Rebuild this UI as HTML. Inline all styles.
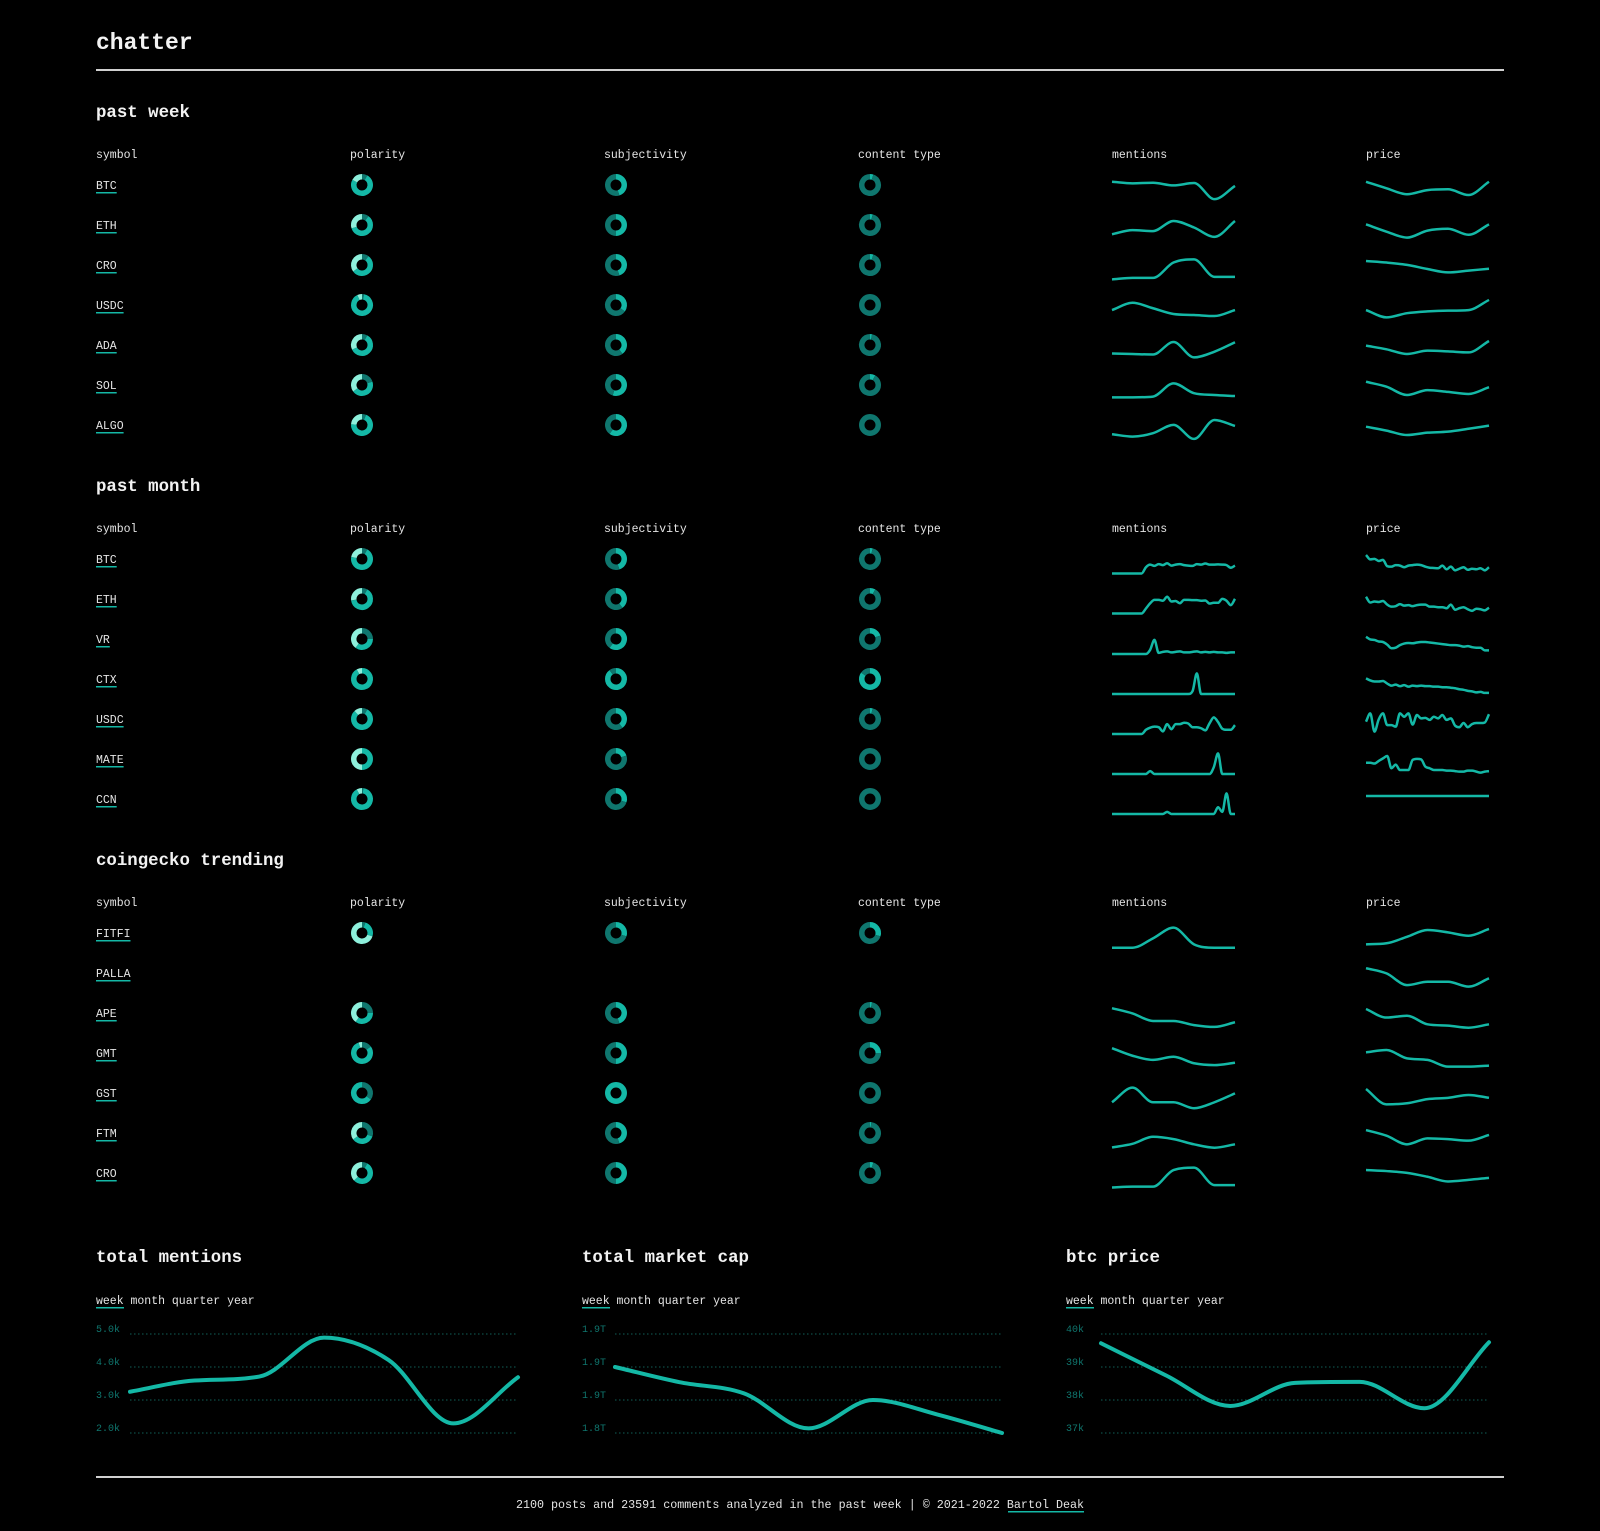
<!DOCTYPE html>
<html><head><meta charset="utf-8"><title>chatter</title>
<style>
html,body{margin:0;padding:0;background:#000;}
body{width:1600px;height:1531px;overflow:hidden;}
svg{display:block;font-family:"Liberation Mono",monospace;}
</style></head>
<body>
<svg id="page" width="1600" height="1531" viewBox="0 0 1600 1531" xmlns="http://www.w3.org/2000/svg">
<rect width="1600" height="1531" fill="#000"/>
<text x="96" y="49" fill="#f2f2f2" font-size="23" font-weight="bold">chatter</text>
<rect x="96" y="69" width="1408" height="2" fill="#d0d0d0"/>
<rect x="96" y="1476" width="1408" height="2" fill="#d0d0d0"/>
<text x="800" y="1508" text-anchor="middle" fill="#e5e5e5" font-size="11.7">2100 posts and 23591 comments analyzed in the past week | © 2021-2022 <tspan>Bartol Deak</tspan></text>
<rect x="1008" y="1511" width="76" height="1.5" fill="#14b8a6"/>
<g id="layer"></g>
</svg>
<script>
// ---------- data ----------
const weekSymbols = ['BTC','ETH','CRO','USDC','ADA','SOL','ALGO'];
const weekPolarity = [[.08,.75,.17],[.1,.6,.3],[.1,.55,.35],[.03,.9,.07],[.08,.6,.32],[.2,.45,.35],[.06,.7,.24]];
const weekSubjectivity = [.45,.5,.45,.35,.4,.55,.6];
const weekContent = [.05,.04,.05,0,.03,.08,0];
const weekMentions = [
 [74,68,70,60,69,7,58],[26,42,38,77,52,16,77],[6,12,12,71,83,16,16],[42,70,49,27,23,19,42],
 [29,27,25,73,14,36,72],[14,14,17,68,30,23,19],[26,17,30,62,8,81,58]];
const weekPrice = [
 [74,49,26,42,45,23,74],[64,36,13,40,47,24,64],[77,71,62,46,33,40,47],[42,14,30,37,40,42,81],
 [59,45,27,40,37,33,77],[74,55,23,42,35,27,53],[55,40,23,32,36,47,59]];

const monthSymbols = ['BTC','ETH','VR','CTX','USDC','MATE','CCN'];
const monthPolarity = [[.08,.7,.22],[.08,.65,.27],[.25,.35,.4],[0,.92,.08],[.08,.8,.12],[0,.5,.5],[.02,.9,.08]];
const monthSubjectivity = [.45,.4,.6,.9,.4,.2,.3];
const monthContent = [.04,.08,.2,.85,.04,0,0];
const monthMentions = [
 [6,6,6,6,6,6,6,6,30,40,35,42,38,45,36,40,42,38,36,35,42,40,44,40,40,41,40,38,28,36],
 [6,6,6,6,6,6,6,6,25,45,58,58,55,70,52,54,45,58,58,57,57,55,56,44,47,47,62,55,38,62],
 [4,4,4,4,4,4,4,4,4,20,58,8,12,14,10,12,14,10,10,12,14,10,12,10,12,10,10,8,10,10],
 [4,4,4,4,4,4,4,4,4,4,4,4,4,4,4,4,4,4,4,15,83,4,4,4,4,4,4,4,4,4],
 [4,4,4,4,4,4,4,4,20,28,32,30,14,42,22,42,42,47,44,30,30,26,18,45,68,50,24,20,20,38],
 [4,4,4,4,4,4,4,4,4,15,4,4,4,4,4,4,4,4,4,4,4,4,4,4,30,83,4,4,4,4],
 [4,4,4,4,4,4,4,4,4,4,4,4,4,12,4,4,4,4,4,4,4,4,4,4,4,30,12,83,4,4]];
const monthPrice = [
 [77,60,62,54,58,34,32,38,36,30,36,38,40,38,32,28,27,26,36,22,32,18,24,30,20,24,22,26,18,30],
 [70,48,52,50,54,40,32,34,42,36,38,34,38,40,40,32,32,30,30,26,40,20,26,30,22,16,24,22,18,28],
 [70,60,58,52,50,40,26,28,38,44,46,45,48,50,50,48,46,44,42,40,38,38,36,32,34,30,28,28,18,18],
 [64,56,52,52,54,44,36,40,34,38,32,36,34,36,34,34,32,32,30,30,28,26,22,20,16,14,10,12,8,8],
 [51,83,13,60,83,38,38,32,83,70,83,40,77,64,66,58,70,64,77,58,64,36,30,46,30,42,46,46,48,80],
 [47,47,44,54,64,73,26,40,19,19,19,58,62,60,32,26,19,19,19,17,17,15,13,13,17,17,13,9,13,15],
 [73,73,73,73,73,73,73,73,73,73,73,73,73,73,73,73,73,73,73,73,73,73,73,73,73,73,73,73,73,73]];

const trendSymbols = ['FITFI','PALLA','APE','GMT','GST','FTM','CRO'];
const trendPolarity = [[.05,.25,.7],null,[.25,.35,.4],[.15,.8,.05],[.35,.65,0],[.3,.35,.35],[.08,.55,.37]];
const trendSubjectivity = [.3,null,.45,.5,1,.45,.5];
const trendContent = [.3,null,.03,.25,0,.02,.05];
const trendMentions = [
 [5,5,41,82,18,5,5],null,[80,60,31,31,15,8,26],[80,51,35,47,22,15,24],
 [26,82,26,26,3,26,60],[6,20,47,38,18,5,18],[6,9,9,73,82,15,15]];
const trendPrice = [
 [18,22,47,73,64,51,77],[80,60,15,28,28,9,41],[77,44,51,18,13,5,18],[64,73,41,35,9,9,13],
 [77,18,22,38,43,54,43],[73,51,18,41,38,32,54],[73,69,62,47,29,35,43]];

const mentionsTicks = [5,4,3,2];
const mentionsTickLabels = ['5.0k','4.0k','3.0k','2.0k'];
const mentionsValues = [3.25,3.59,3.71,4.89,4.21,2.29,3.69];
const capTicks = [1.95,1.90,1.85,1.80];
const capTickLabels = ['1.9T','1.9T','1.9T','1.8T'];
const capValues = [1.90,1.877,1.86,1.807,1.85,1.828,1.80];
const btcTicks = [40,39,38,37];
const btcTickLabels = ['40k','39k','38k','37k'];
const btcValues = [39.72,38.75,37.82,38.52,38.55,37.75,39.75];

// ---------- drawing ----------
const NS = 'http://www.w3.org/2000/svg';
const layer = document.getElementById('layer');
const TEAL='#14b8a6', DARK='#0f766e', MINT='#8ef0dc', TEXT='#e5e5e5';
function el(tag, attrs, parent){const e=document.createElementNS(NS,tag);for(const k in attrs)e.setAttribute(k,attrs[k]);(parent||layer).appendChild(e);return e;}
function txt(s, attrs, parent){const e=el('text',attrs,parent);e.textContent=s;return e;}

function monotone(pts){
  const n=pts.length; if(n<2) return '';
  const d=[],m=[];
  for(let i=0;i<n-1;i++) d.push((pts[i+1][1]-pts[i][1])/(pts[i+1][0]-pts[i][0]));
  m[0]=d[0]; m[n-1]=d[n-2];
  for(let i=1;i<n-1;i++) m[i]=(d[i-1]*d[i]<=0)?0:(d[i-1]+d[i])/2;
  for(let i=0;i<n-1;i++){ if(d[i]===0){m[i]=0;m[i+1]=0;continue;}
    const a=m[i]/d[i], b=m[i+1]/d[i], s=a*a+b*b; if(s>9){const t=3/Math.sqrt(s);m[i]=t*a*d[i];m[i+1]=t*b*d[i];}}
  let p='M'+pts[0][0].toFixed(2)+','+pts[0][1].toFixed(2);
  for(let i=0;i<n-1;i++){const h=(pts[i+1][0]-pts[i][0])/3;
    p+='C'+(pts[i][0]+h).toFixed(2)+','+(pts[i][1]+m[i]*h).toFixed(2)+' '+(pts[i+1][0]-h).toFixed(2)+','+(pts[i+1][1]-m[i+1]*h).toFixed(2)+' '+pts[i+1][0].toFixed(2)+','+pts[i+1][1].toFixed(2);}
  return p;
}

function arc(cx,cy,r,f0,f1){
  const a0=f0*2*Math.PI,a1=f1*2*Math.PI;
  const x0=cx+r*Math.sin(a0),y0=cy-r*Math.cos(a0),x1=cx+r*Math.sin(a1),y1=cy-r*Math.cos(a1);
  return 'M'+x0.toFixed(2)+','+y0.toFixed(2)+'A'+r+','+r+' 0 '+((f1-f0)>.5?1:0)+' 1 '+x1.toFixed(2)+','+y1.toFixed(2);
}
function donut(cx,cy,fracs,colors,name){
  const g=el('g',{});
  
  
  let acc=0;
  fracs.forEach((f,i)=>{
    if(f<=0) return;
    if(f>=0.999){el('circle',{cx:cx,cy:cy,r:8.25,fill:'none',stroke:colors[i],'stroke-width':5.5},g);}
    else el('path',{d:arc(cx,cy,8.25,acc,acc+f),fill:'none',stroke:colors[i],'stroke-width':5.5},g);
    acc+=f;
  });
}
function spark(x0,cy,vals,name){
  const w=123,h=26,bottom=cy+16;
  const pts=vals.map((v,i)=>[x0+i/(vals.length-1)*w, bottom-v/100*h]);
  const p=el('path',{d:monotone(pts),fill:'none',stroke:TEAL,'stroke-width':2.5,'stroke-linejoin':'round'});
  
  
}

const COLX=[96,350,604,858,1112,1366];
const HEAD=['symbol','polarity','subjectivity','content type','mentions','price'];
function section(key,title,titleY,syms,pol,subj,cont,ment,price){
  const t=txt(title,{x:96,y:titleY+5,fill:'#f2f2f2','font-size':17.4,'font-weight':'bold'});
  
  
  HEAD.forEach((h,i)=>{const e=txt(h,{x:COLX[i],y:titleY+46,fill:TEXT,'font-size':11.5});
    
    });
  syms.forEach((s,r)=>{
    const cy=titleY+73+r*40;
    const a=txt(s,{x:96,y:cy+4,fill:TEXT,'font-size':11.5});
    
    
    const u=el('rect',{x:96,y:cy+7,width:s.length*6.9,height:1.5,fill:TEAL});
    
    
    if(pol[r]) donut(362,cy,pol[r],[DARK,TEAL,MINT],key+'-polarity-'+s.toLowerCase());
    if(subj[r]!==null) donut(616,cy,[subj[r],1-subj[r]],[TEAL,DARK],key+'-subjectivity-'+s.toLowerCase());
    if(cont[r]!==null) donut(870,cy,[cont[r],1-cont[r]],[TEAL,DARK],key+'-content-type-'+s.toLowerCase());
    if(ment[r]) spark(1112,cy,ment[r],key+'-mentions-'+s.toLowerCase());
    if(price[r]) spark(1366,cy,price[r],key+'-price-'+s.toLowerCase());
  });
}
section('past-week','past week',112,weekSymbols,weekPolarity,weekSubjectivity,weekContent,weekMentions,weekPrice);
section('past-month','past month',486,monthSymbols,monthPolarity,monthSubjectivity,monthContent,monthMentions,monthPrice);
section('coingecko-trending','coingecko trending',860,trendSymbols,trendPolarity,trendSubjectivity,trendContent,trendMentions,trendPrice);

function bigChart(key,title,lx,gx0,gx1,ticks,labels,vals){
  const t=txt(title,{x:lx,y:1262,fill:'#f2f2f2','font-size':17.4,'font-weight':'bold'});
  
  
  let px=lx;
  ['week','month','quarter','year'].forEach(p=>{
    const e=txt(p,{x:px,y:1304,fill:TEXT,'font-size':11.5});
    
    
    if(p==='week'){const u=el('rect',{x:px,y:1307,width:28,height:1.5,fill:TEAL});
      
      }
    px+=(p.length+1)*6.9;
  });
  const y0=1433,y1=1334,dMin=ticks[ticks.length-1],dMax=ticks[0];
  const ys=v=>y0-(v-dMin)/(dMax-dMin)*(y0-y1);
  const xs=i=>gx0+i/(vals.length-1)*(gx1-gx0);
  ticks.forEach((tv,i)=>{
    const gl=el('line',{x1:gx0,x2:gx1,y1:ys(tv),y2:ys(tv),stroke:'#115e56','stroke-width':1,'stroke-dasharray':'1.5,2.5'});
    
    
    const tl=txt(labels[i],{x:lx,y:ys(tv)-2,fill:'#0f766e','font-size':10});
    
    
  });
  const line=el('path',{d:monotone(vals.map((v,i)=>[xs(i),ys(v)])),fill:'none',stroke:TEAL,'stroke-width':4,'stroke-linecap':'round'});
  
  
}
bigChart('total-mentions','total mentions',96,130,518,mentionsTicks,mentionsTickLabels,mentionsValues);
bigChart('total-market-cap','total market cap',582,615,1002,capTicks,capTickLabels,capValues);
bigChart('btc-price','btc price',1066,1101,1489,btcTicks,btcTickLabels,btcValues);
</script>
</body></html>
